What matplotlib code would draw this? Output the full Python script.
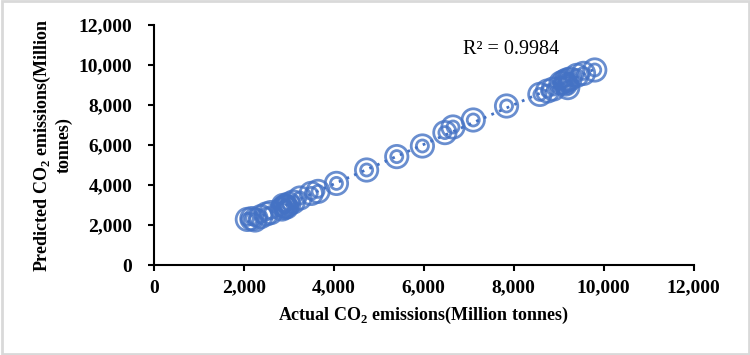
import numpy as np
import matplotlib
matplotlib.use("Agg")
import matplotlib.pyplot as plt
from matplotlib.patches import Rectangle
from matplotlib.ticker import FuncFormatter

# actual vs predicted CO2 emissions (million tonnes)
actual = [2080, 2180, 2250, 2380, 2500, 2600, 2850, 2880, 2900, 2930, 2950, 3000,
          3100, 3250, 3500, 3650, 4060, 4730, 5400, 5970, 6470, 6650, 7100, 7840,
          8580, 8750, 8880, 9050, 9120, 9150, 9200, 9180, 9250, 9400, 9550, 9800]
predicted = [2280, 2320, 2250, 2420, 2550, 2620, 2800, 2980, 2880, 2950, 2900, 3050,
             3150, 3350, 3580, 3680, 4080, 4750, 5420, 5950, 6620, 6900, 7250, 7950,
             8530, 8700, 8800, 9100, 9180, 9050, 8870, 9250, 9300, 9480, 9580, 9750]
r2_text = "R² = 0.9984"
ticks = [0, 2000, 4000, 6000, 8000, 10000, 12000]

blue = "#4472C4"
serif = "Liberation Serif"

plt.rcParams["mathtext.fontset"] = "custom"
plt.rcParams["mathtext.rm"] = serif

fig = plt.figure(figsize=(7.5, 3.55), dpi=100)
ax = fig.add_axes([0.205, 0.2535, 0.72, 0.6761])

x = np.array(actual)
y = np.array(predicted)

# trendline (linear fit over the data range)
k, b = np.polyfit(x, y, 1)
xs = np.array([x.min(), x.max()])
ax.plot(xs, k * xs + b, ls=(0, (1, 2)), color=blue, lw=2, zorder=2)

# double-ring markers
ax.scatter(x, y, s=260, facecolors="none", edgecolors=blue, linewidths=2.0, alpha=0.8, zorder=3)
ax.scatter(x, y, s=75, facecolors="none", edgecolors=blue, linewidths=2.0, alpha=0.8, zorder=3)

ax.set_xlim(0, 12000)
ax.set_ylim(0, 12000)
ax.set_xticks(ticks)
ax.set_yticks(ticks)
fmt = FuncFormatter(lambda v, p: f"{int(v):,}")
ax.xaxis.set_major_formatter(fmt)
ax.yaxis.set_major_formatter(fmt)

for s in ["top", "right"]:
    ax.spines[s].set_visible(False)
for s in ["left", "bottom"]:
    ax.spines[s].set_linewidth(1.5)
ax.tick_params(direction="out", length=4.5, width=1.5)
ax.tick_params(axis="y", pad=11)
ax.tick_params(axis="x", pad=6)
for lab in ax.get_xticklabels() + ax.get_yticklabels():
    lab.set_fontfamily(serif)
    lab.set_fontweight("bold")
    lab.set_fontsize(14)

ax.set_xlabel("Actual CO$_\\mathregular{2}$ emissions(Million tonnes)",
              fontfamily=serif, fontweight="bold", fontsize=13, labelpad=6)
ax.set_ylabel("Predicted CO$_\\mathregular{2}$ emissions(Million\ntonnes)",
              fontfamily=serif, fontweight="bold", fontsize=13, labelpad=4)

ax.text(7950, 10750, r2_text, fontfamily=serif, fontsize=14.5, ha="center", va="center")

# light grey frame around the figure
fig.patches.append(Rectangle((0.002, 0.003), 0.996, 0.994, transform=fig.transFigure,
                             fill=False, edgecolor="#d9d9d9", lw=2))

fig.savefig("out.png", dpi=100)
